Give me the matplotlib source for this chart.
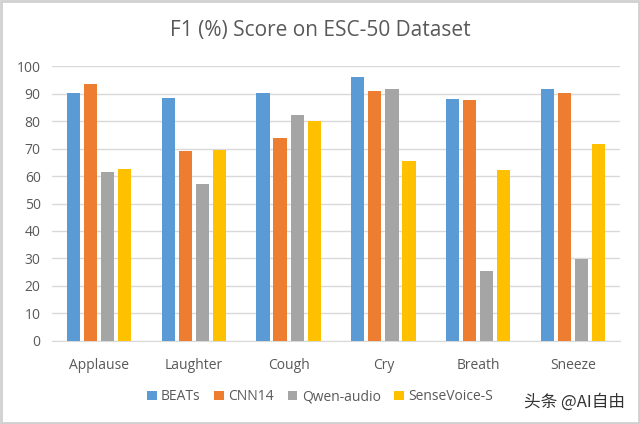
import matplotlib
matplotlib.use("Agg")
import matplotlib.pyplot as plt
import numpy as np
from matplotlib.patches import Rectangle

categories = ["Applause", "Laughter", "Cough", "Cry", "Breath", "Sneeze"]
series_names = ["BEATs", "CNN14", "Qwen-audio", "SenseVoice-S"]
beats = [90.3, 88.3, 90.3, 96.1, 88.0, 91.7]
cnn14 = [93.6, 69.2, 74.0, 90.8, 87.7, 90.3]
qwen = [61.3, 57.0, 82.4, 91.5, 25.4, 29.7]
sensevoice = [62.6, 69.5, 80.2, 65.4, 62.3, 71.5]
colors = ["#5B9BD5", "#ED7D31", "#A5A5A5", "#FFC000"]

plt.rcParams['font.family'] = ['Open Sans', 'DejaVu Sans']
fig = plt.figure(figsize=(6.4, 4.24), dpi=100)
ax = fig.add_axes([0.081, 0.196, 0.888, 0.648])

x = np.arange(len(categories))
step = 0.18
width = 0.14
for i, (vals, name, c) in enumerate(zip([beats, cnn14, qwen, sensevoice], series_names, colors)):
    ax.bar(x + (i - 1.5) * step, vals, width=width, color=c, label=name, zorder=3)

ax.set_xlim(-0.5, len(categories) - 0.5)
ax.set_ylim(0, 100)
ax.set_yticks(np.arange(0, 101, 10))
ax.set_xticks(x)
ax.set_xticklabels(categories)
ax.grid(axis='y', color='#D9D9D9', linewidth=1, zorder=0)
for s in ['top', 'right', 'left']:
    ax.spines[s].set_visible(False)
ax.spines['bottom'].set_color('#D9D9D9')
ax.tick_params(axis='both', length=0, colors='#595959', labelsize=10)
ax.tick_params(axis='x', pad=12)
ax.tick_params(axis='y', pad=8)

fig.text(0.5, 0.928, "F1 (%) Score on ESC-50 Dataset", ha='center', va='center',
         fontsize=15, color='#595959')

handles, labels = ax.get_legend_handles_labels()
fig.legend(handles, labels, loc='center', bbox_to_anchor=(0.5, 0.064), ncol=4,
           frameon=False, fontsize=10, labelcolor='#595959', handlelength=0.7,
           handleheight=0.7, handletextpad=0.3, columnspacing=1.0)

fig.text(0.818, 0.052, "头条 @AI自由", ha='left', va='center', fontsize=12,
         color='#333333', family=['Noto Sans CJK SC', 'DejaVu Sans'])

fig.patches.append(Rectangle((0.002, 0.002), 0.996, 0.996, transform=fig.transFigure,
                             fill=False, edgecolor='#D0D0D0', linewidth=2))

fig.savefig("out.png", dpi=100, facecolor='white')
